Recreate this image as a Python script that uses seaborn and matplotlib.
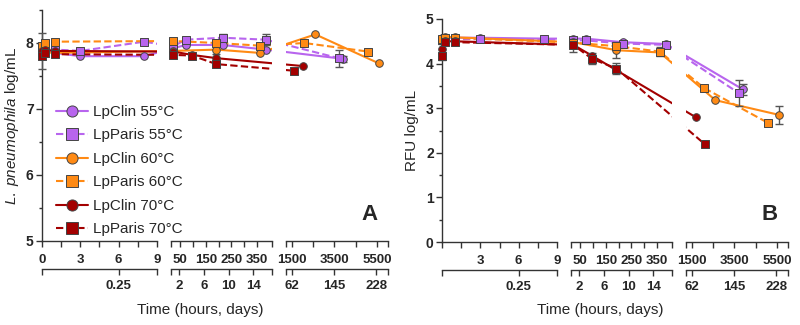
import numpy as np
import seaborn as sns
import matplotlib.pyplot as plt
from matplotlib.lines import Line2D

# time points in hours (broken axis: hours 0-9, ~1-16 days, ~2-8 months)
t55_clin = [0, 0.25, 1, 3, 8, 24, 72, 216, 384, 3900]
t55_paris = [0, 0.25, 1, 3, 8, 24, 72, 216, 384, 3700]
t60_clin = [0, 0.25, 1, 24, 192, 360, 2600, 5600]
t60_paris = [0, 0.25, 1, 24, 192, 360, 2080, 5080]
t70_clin_a = [0, 0.25, 1, 24, 96, 192, 2030]
t70_clin_b = [0, 0.25, 1, 24, 96, 192, 1670]
t70_paris_a = [0, 0.25, 1, 24, 96, 192, 1590]
t70_paris_b = [0, 0.25, 1, 24, 96, 192, 2110]

# panel A: culturable L. pneumophila (log/mL)
a_clin55 = [7.85, 7.88, 7.85, 7.80, 7.80, 7.92, 7.97, 7.97, 7.90, 7.76]
a_paris55 = [7.90, 7.95, 7.90, 7.88, 8.02, 7.95, 8.05, 8.08, 8.05, 7.77]
a_clin60 = [7.82, 7.86, 7.85, 7.88, 7.90, 7.85, 8.13, 7.69]
a_paris60 = [7.95, 8.00, 8.02, 8.03, 8.00, 7.96, 8.00, 7.87]
a_clin70 = [7.88, 7.90, 7.88, 7.87, 7.82, 7.77, 7.65]
a_paris70 = [7.80, 7.85, 7.83, 7.82, 7.81, 7.68, 7.58]
a_clin55_err = [0, 0, 0, 0, 0, 0, 0, 0, 0, 0.05]
a_paris55_err = [0, 0, 0, 0, 0, 0, 0, 0.05, 0.08, 0.13]
a_clin60_err = [0, 0, 0, 0, 0, 0, 0, 0]
a_paris60_err = [0, 0, 0, 0, 0, 0, 0, 0]
a_clin70_err = [0.27, 0, 0, 0.1, 0, 0.07, 0]
a_paris70_err = [0, 0, 0, 0, 0, 0, 0]

# panel B: RFU log/mL
b_clin55 = [4.55, 4.58, 4.58, 4.58, 4.56, 4.56, 4.56, 4.48, 4.44, 3.42]
b_paris55 = [4.52, 4.55, 4.55, 4.55, 4.55, 4.52, 4.52, 4.45, 4.42, 3.34]
b_clin60 = [4.58, 4.60, 4.59, 4.48, 4.30, 4.25, 3.18, 2.85]
b_paris60 = [4.55, 4.58, 4.58, 4.47, 4.39, 4.27, 3.45, 2.67]
b_clin70 = [4.33, 4.50, 4.50, 4.42, 4.18, 3.85, 2.80]
b_paris70 = [4.16, 4.48, 4.48, 4.42, 4.11, 3.89, 2.19]
b_clin55_err = [0, 0, 0, 0, 0, 0, 0, 0, 0, 0.13]
b_paris55_err = [0, 0, 0, 0, 0, 0, 0, 0, 0, 0.3]
b_clin60_err = [0, 0, 0, 0, 0.18, 0, 0, 0.2]
b_paris60_err = [0, 0, 0, 0, 0, 0.1, 0, 0]
b_clin70_err = [0.1, 0, 0, 0, 0, 0, 0]
b_paris70_err = [0.08, 0, 0, 0.15, 0.13, 0.12, 0]

labels = ["LpClin 55°C", "LpParis 55°C", "LpClin 60°C",
          "LpParis 60°C", "LpClin 70°C", "LpParis 70°C"]
colors = ["#B865EE", "#B865EE", "#FF8A14", "#FF8A14", "#A30000", "#A30000"]
markers = ["o", "s", "o", "s", "o", "s"]
dashed = [False, True, False, True, False, True]

hour_ticks = [[0, 3, 6, 9], [50, 150, 250, 350], [1500, 3500, 5500]]
hour_minor = [[1.5, 4.5, 7.5], [15, 100, 200, 300, 408], [1218, 2500, 4500, 6018]]
day_ticks = [[0, 0.25, 0.375], [2, 6, 10, 14], [62, 145, 228]]
day_labels = [["", "0.25", ""], ["2", "6", "10", "14"], ["62", "145", "228"]]
day_minor = [[], [15 / 24, 17], [1218 / 24, 6018 / 24]]

sns.set_style("ticks")
plt.rcParams["font.family"] = ["Liberation Sans", "DejaVu Sans"]
plt.rcParams["mathtext.fontset"] = "custom"
plt.rcParams["mathtext.it"] = "Liberation Sans:italic"
plt.rcParams["mathtext.rm"] = "Liberation Sans"

# piecewise-linear compressed time axis (data hours -> pixels)
data_bp = [0, 9, 15, 408, 1218, 6018]
disp_bp = [0, 115, 129, 230, 244, 346]


def fwd(x):
    return np.interp(x, data_bp, disp_bp)


def inv(x):
    return np.interp(x, disp_bp, data_bp)


W, H = 800, 325
fig = plt.figure(figsize=(8, 3.25), dpi=100)

panels = [
    dict(name="A", left=42, top=10, bottom=241, ylim=(5, 8.5), yticks=[5, 6, 7, 8],
         times=[t55_clin, t55_paris, t60_clin, t60_paris, t70_clin_a, t70_paris_a],
         vals=[a_clin55, a_paris55, a_clin60, a_paris60, a_clin70, a_paris70],
         errs=[a_clin55_err, a_paris55_err, a_clin60_err, a_paris60_err, a_clin70_err, a_paris70_err],
         ylabel=r"$\mathit{L.\ pneumophila}$ log/mL",
         hour_labels0=["0", "3", "6", "9"]),
    dict(name="B", left=442, top=19, bottom=242, ylim=(0, 5), yticks=[0, 1, 2, 3, 4, 5],
         times=[t55_clin, t55_paris, t60_clin, t60_paris, t70_clin_b, t70_paris_b],
         vals=[b_clin55, b_paris55, b_clin60, b_paris60, b_clin70, b_paris70],
         errs=[b_clin55_err, b_paris55_err, b_clin60_err, b_paris60_err, b_clin70_err, b_paris70_err],
         ylabel="RFU log/mL",
         hour_labels0=["", "3", "6", "9"]),
]

spine_c = "#333333"
tick_fs = 9.5
for p in panels:
    for k in range(3):
        x0 = p["left"] + disp_bp[2 * k]
        w = disp_bp[2 * k + 1] - disp_bp[2 * k]
        ax_h = p["bottom"] - p["top"]
        ax = fig.add_axes([x0 / W, 1 - p["bottom"] / H, w / W, ax_h / H])
        ax.patch.set_alpha(0)
        lo, hi = data_bp[2 * k], data_bp[2 * k + 1]
        for i in range(6):
            t = np.array(p["times"][i], dtype=float)
            v = np.array(p["vals"][i], dtype=float)
            e = np.array(p["errs"][i], dtype=float)
            sns.lineplot(x=t, y=v, ax=ax, color=colors[i], lw=1.5,
                         linestyle=(0, (3.5, 1.6)) if dashed[i] else "-",
                         sort=False, estimator=None, zorder=2)
            m = (t >= lo) & (t <= hi)
            me = m & (e > 0)
            if me.any():
                ax.errorbar(t[me], v[me], yerr=e[me], fmt="none", ecolor="#555555",
                            elinewidth=1, capsize=3, capthick=1, zorder=3, clip_on=False)
            sns.scatterplot(x=t[m], y=v[m], ax=ax, marker=markers[i], color=colors[i],
                            edgecolor="#444444", linewidth=0.7, s=30, zorder=4 + i,
                            clip_on=False)
        ax.set_xscale("function", functions=(fwd, inv))
        ax.set_xlim(lo, hi)
        ax.set_ylim(*p["ylim"])
        ax.set_xlabel("")
        ax.set_ylabel("")
        for s in ["top", "right"]:
            ax.spines[s].set_visible(False)
        ax.spines["bottom"].set_linewidth(1)
        ax.spines["bottom"].set_color(spine_c)
        hl = p["hour_labels0"] if k == 0 else [str(v) for v in hour_ticks[k]]
        ax.set_xticks(hour_ticks[k], labels=hl, fontweight="bold", fontsize=tick_fs)
        ax.set_xticks(hour_minor[k], minor=True)
        ax.tick_params(axis="x", which="both", length=4, width=1, pad=5.5, color=spine_c)
        if k == 0:
            ax.spines["left"].set_linewidth(1)
            ax.spines["left"].set_color(spine_c)
            ax.set_yticks(p["yticks"], labels=[str(v) for v in p["yticks"]],
                          fontweight="bold", fontsize=tick_fs + 0.5)
            ax.set_yticks(np.arange(p["ylim"][0] + 0.5, p["ylim"][1] + 0.01, 1.0), minor=True)
            ax.tick_params(axis="y", which="major", length=4, width=1, pad=2, color=spine_c)
            ax.tick_params(axis="y", which="minor", length=2.5, width=1, color=spine_c)
        else:
            ax.spines["left"].set_visible(False)
            ax.tick_params(axis="y", which="both", left=False, labelleft=False)
        # days axis below the hours axis
        sec = ax.secondary_xaxis(-28 / ax_h)
        sec.set_xticks([d * 24 for d in day_ticks[k]], labels=day_labels[k],
                       fontweight="bold", fontsize=tick_fs)
        sec.set_xticks([d * 24 for d in day_minor[k]], minor=True)
        sec.tick_params(axis="x", which="both", length=4, width=1, pad=4, color=spine_c)
        sec.spines["bottom"].set_linewidth(1)
        sec.spines["bottom"].set_color(spine_c)

    fig.text((p["left"] - 30) / W, 1 - (p["top"] + p["bottom"]) / 2 / H, p["ylabel"],
             rotation=90, ha="center", va="center", fontsize=11)
    fig.text((p["left"] + 158) / W, 1 - 310 / H, "Time (hours, days)",
             ha="center", va="center", fontsize=11)
    fig.text((p["left"] + 328) / W, 1 - 214 / H, p["name"],
             ha="center", va="center", fontsize=16, fontweight="bold")

handles = [Line2D([], [], color=colors[i], lw=1.5,
                  linestyle=(0, (3.5, 1.6)) if dashed[i] else "-",
                  marker=markers[i], markersize=8, markerfacecolor=colors[i],
                  markeredgecolor="#444444", markeredgewidth=0.7) for i in range(6)]
fig.legend(handles, labels, loc="upper left", bbox_to_anchor=(56 / W, 1 - 105 / H),
           frameon=False, fontsize=11, handlelength=2.1, handletextpad=0.3,
           labelspacing=0.62, borderpad=0, borderaxespad=0)

fig.savefig("out.png", dpi=100)
